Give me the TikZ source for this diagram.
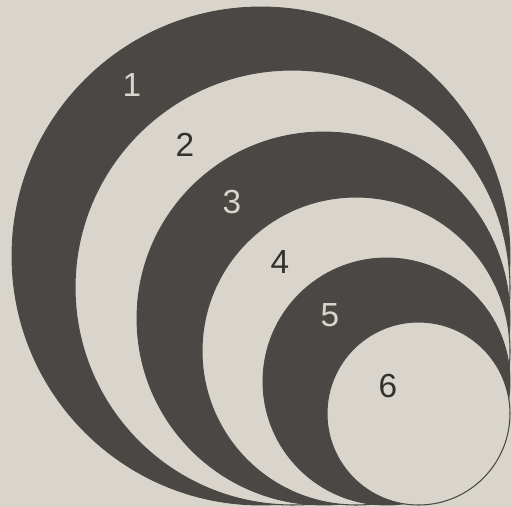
\documentclass[tikz,border=0pt]{standalone}
\usepackage{fontspec}
\setmainfont{Liberation Sans}
\definecolor{paper}{HTML}{D9D5CC}
\definecolor{ink}{HTML}{4A4845}
\definecolor{digit}{HTML}{33312E}
\tikzset{
  dark disc/.style={fill=ink, draw=ink, line width=0.5pt},
  light disc/.style={fill=paper, draw=ink, line width=0.6pt},
  number/.style={font=\fontsize{19}{19}\selectfont, inner sep=0pt},
}
\begin{document}
\begin{tikzpicture}[x=0.02cm,y=-0.02cm]
  % sheet
  \fill[paper] (0,0) rectangle (512,507);
  % six discs, biggest first, all pushed into the lower right corner
  \foreach \r/\s in {249/dark disc,217.5/light disc,186.5/dark disc,
                     154/light disc,123.5/dark disc,91.5/light disc}
    \path[\s] ({510-\r},{505-\r}) circle (\r);
  % numbers
  \node[number, text=paper] (n1) at (132,85) {1};
  \node[number, text=digit] (n2) at (185,145) {2};
  \node[number, text=paper] (n3) at (232,202) {3};
  \node[number, text=digit] (n4) at (280,262) {4};
  \node[number, text=paper] (n5) at (330,315) {5};
  \node[number, text=digit] (n6) at (388,386) {6};
\end{tikzpicture}
\end{document}
